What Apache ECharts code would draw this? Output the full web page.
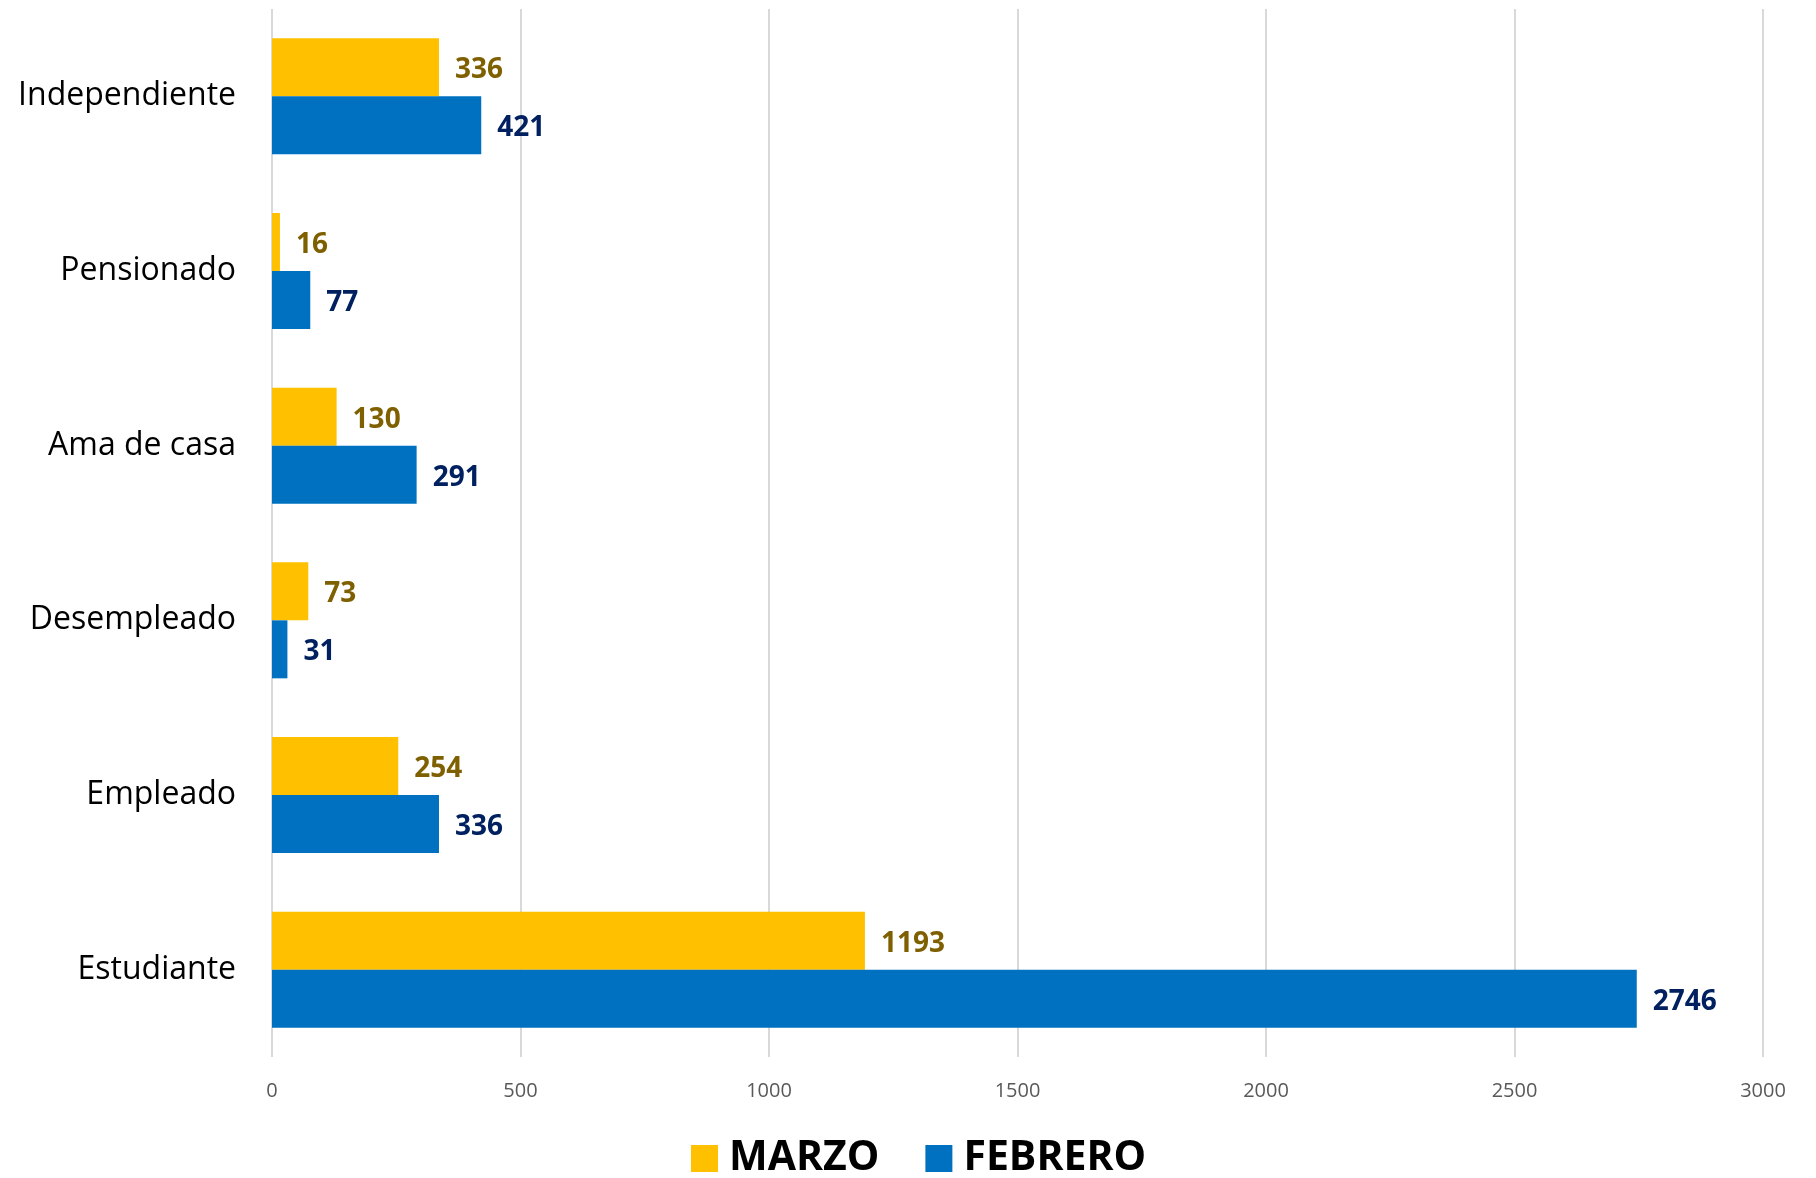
<!DOCTYPE html>
<html>
<head>
<meta charset="utf-8">
<script src="https://cdn.jsdelivr.net/npm/echarts@6/dist/echarts.min.js"></script>
<style>
	html, body { margin: 0; padding: 0; background: #fff; }
	#chart { width: 1816px; height: 1178px; }
</style>
</head>
<body>
<div id="chart"></div>
<script>
// categories bottom-to-top (ECharts puts the first category at the bottom)
const categories = ["Estudiante", "Empleado", "Desempleado", "Ama de casa", "Pensionado", "Independiente"];
const marzo = [1193, 254, 73, 130, 16, 336];
const febrero = [2746, 336, 31, 291, 77, 421];
const xTicks = [0, 500, 1000, 1500, 2000, 2500, 3000];

const FONT = "'Open Sans', 'Noto Sans', sans-serif";

const chart = echarts.init(document.getElementById("chart"));

const barLabel = color => ({
	show: true,
	position: "right",
	distance: 16,
	offset: [0, 3],
	color: color,
	fontFamily: FONT,
	fontWeight: "bold",
	fontSize: 28
});

chart.setOption({
	animation: false,
	grid: {
		left: 272,
		right: 53,
		top: 9,
		bottom: 121
	},
	legend: {
		data: ["MARZO", "FEBRERO"],
		bottom: -6,
		left: 686,
		itemWidth: 27,
		itemHeight: 27,
		itemGap: 46,
		icon: "rect",
		textStyle: {
			fontFamily: FONT,
			fontWeight: "bold",
			fontSize: 41,
			color: "#000",
			padding: [0, 0, 0, 6]
		}
	},
	xAxis: {
		type: "value",
		min: xTicks[0],
		max: xTicks[xTicks.length - 1],
		interval: 500,
		axisLine: { show: false },
		axisTick: { show: false },
		axisLabel: {
			fontFamily: FONT,
			fontSize: 20,
			color: "#595959",
			margin: 24,
			formatter: v => String(v)
		},
		splitLine: {
			show: true,
			lineStyle: { color: "#D9D9D9", width: 2 }
		}
	},
	yAxis: {
		type: "category",
		data: categories,
		axisLine: { show: false },
		axisTick: { show: false },
		axisLabel: {
			fontFamily: FONT,
			fontSize: 32,
			color: "#000",
			margin: 36,
			padding: [6, 0, 0, 0]
		}
	},
	series: [
		{
			name: "MARZO",
			type: "bar",
			data: marzo,
			barWidth: 58,
			barGap: "0%",
			itemStyle: { color: "#FFC000" },
			label: barLabel("#7F6000")
		},
		{
			name: "FEBRERO",
			type: "bar",
			data: febrero,
			barWidth: 58,
			barGap: "0%",
			itemStyle: { color: "#0070C0" },
			label: barLabel("#002060")
		}
	]
});
</script>
</body>
</html>
